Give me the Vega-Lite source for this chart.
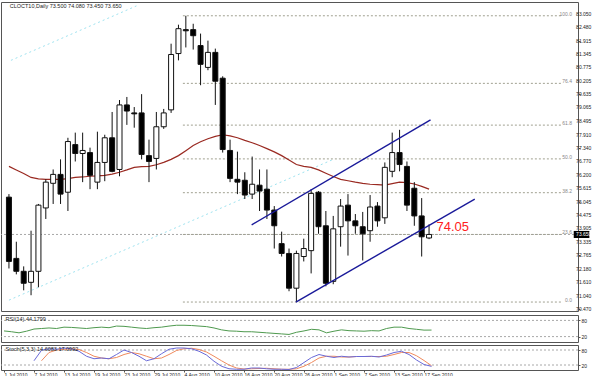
{
"$schema": "https://vega.github.io/schema/vega-lite/v6.json",
"background": "white",
"padding": {"left": 0, "top": 1, "right": 0, "bottom": 0},
"spacing": 1,
"config": {
 "view": {"stroke": "#555", "strokeWidth": 1},
 "font": "Liberation Sans",
 "axis": {"labelFont": "Liberation Sans", "labelFontSize": 5, "labelColor": "#222", "tickColor": "#555", "domainColor": "#555", "grid": false, "title": null, "tickSize": 2, "labelPadding": 1, "labelOverlap": false}
},
"datasets": {
 "candles": [
  {"i":0,"o":75.24,"h":75.37,"l":72.20,"c":72.50},
  {"i":1,"o":72.63,"h":73.34,"l":71.95,"c":72.08},
  {"i":2,"o":72.08,"h":72.29,"l":71.27,"c":71.57},
  {"i":3,"o":71.61,"h":73.81,"l":71.06,"c":72.08},
  {"i":4,"o":72.08,"h":74.95,"l":71.40,"c":74.90},
  {"i":5,"o":74.78,"h":76.00,"l":74.31,"c":75.88},
  {"i":6,"o":75.83,"h":76.42,"l":74.95,"c":76.21},
  {"i":7,"o":76.21,"h":76.85,"l":74.95,"c":75.37},
  {"i":8,"o":75.45,"h":77.77,"l":74.65,"c":77.61},
  {"i":9,"o":77.48,"h":77.99,"l":76.76,"c":77.10},
  {"i":10,"o":77.10,"h":77.99,"l":75.88,"c":77.23},
  {"i":11,"o":77.14,"h":77.35,"l":75.58,"c":76.17},
  {"i":12,"o":75.88,"h":78.03,"l":75.58,"c":76.72},
  {"i":13,"o":76.72,"h":77.90,"l":75.92,"c":77.77},
  {"i":14,"o":77.77,"h":78.87,"l":76.30,"c":76.34},
  {"i":15,"o":76.42,"h":79.38,"l":76.13,"c":79.17},
  {"i":16,"o":79.17,"h":79.51,"l":78.32,"c":78.91},
  {"i":17,"o":78.83,"h":79.08,"l":78.20,"c":78.79},
  {"i":18,"o":78.83,"h":79.63,"l":76.85,"c":77.06},
  {"i":19,"o":77.01,"h":77.69,"l":75.88,"c":76.76},
  {"i":20,"o":76.89,"h":78.87,"l":76.42,"c":78.24},
  {"i":21,"o":78.24,"h":79.00,"l":78.15,"c":78.83},
  {"i":22,"o":78.96,"h":81.78,"l":78.83,"c":81.32},
  {"i":23,"o":81.36,"h":82.59,"l":81.07,"c":82.42},
  {"i":24,"o":82.38,"h":82.97,"l":81.62,"c":82.33},
  {"i":25,"o":82.38,"h":82.63,"l":81.53,"c":82.12},
  {"i":26,"o":81.70,"h":82.21,"l":80.01,"c":80.90},
  {"i":27,"o":80.77,"h":81.91,"l":80.65,"c":81.41},
  {"i":28,"o":81.41,"h":81.57,"l":79.17,"c":80.18},
  {"i":29,"o":80.31,"h":80.39,"l":77.14,"c":77.27},
  {"i":30,"o":77.23,"h":77.69,"l":75.88,"c":76.04},
  {"i":31,"o":76.00,"h":77.18,"l":75.37,"c":75.88},
  {"i":32,"o":75.96,"h":76.30,"l":75.16,"c":75.33},
  {"i":33,"o":75.37,"h":76.97,"l":75.16,"c":75.79},
  {"i":34,"o":75.75,"h":76.42,"l":74.65,"c":75.50},
  {"i":35,"o":75.58,"h":76.42,"l":74.31,"c":74.69},
  {"i":36,"o":74.69,"h":74.86,"l":73.05,"c":74.02},
  {"i":37,"o":73.26,"h":73.77,"l":72.71,"c":72.84},
  {"i":38,"o":72.84,"h":73.05,"l":71.23,"c":71.36},
  {"i":39,"o":71.36,"h":72.96,"l":70.77,"c":72.84},
  {"i":40,"o":72.71,"h":73.47,"l":72.50,"c":73.05},
  {"i":41,"o":72.96,"h":75.58,"l":71.99,"c":75.40},
  {"i":42,"o":75.45,"h":75.50,"l":73.68,"c":73.98},
  {"i":43,"o":74.02,"h":74.65,"l":71.44,"c":71.57},
  {"i":44,"o":71.65,"h":74.44,"l":71.53,"c":73.89},
  {"i":45,"o":73.98,"h":75.16,"l":73.13,"c":74.86},
  {"i":46,"o":74.90,"h":75.37,"l":72.75,"c":74.23},
  {"i":47,"o":74.23,"h":74.52,"l":73.68,"c":74.02},
  {"i":48,"o":73.98,"h":74.61,"l":72.54,"c":73.68},
  {"i":49,"o":73.81,"h":75.33,"l":73.34,"c":74.82},
  {"i":50,"o":74.86,"h":75.03,"l":73.98,"c":74.23},
  {"i":51,"o":74.36,"h":76.72,"l":74.10,"c":76.51},
  {"i":52,"o":76.34,"h":77.99,"l":76.09,"c":77.14},
  {"i":53,"o":77.14,"h":78.11,"l":76.34,"c":76.63},
  {"i":54,"o":76.55,"h":76.76,"l":74.65,"c":74.90},
  {"i":55,"o":75.62,"h":75.88,"l":74.02,"c":74.44},
  {"i":56,"o":74.44,"h":75.20,"l":72.71,"c":73.55},
  {"i":57,"o":73.50,"h":74.08,"l":73.45,"c":73.65}
 ],
 "ma": [
  {"i":0,"v":76.55},{"i":1,"v":76.40},{"i":2,"v":76.25},{"i":3,"v":76.08},{"i":4,"v":76.02},{"i":5,"v":76.00},{"i":6,"v":76.00},{"i":7,"v":76.00},{"i":8,"v":76.03},{"i":9,"v":76.08},
  {"i":10,"v":76.10},{"i":11,"v":76.13},{"i":12,"v":76.15},{"i":13,"v":76.17},{"i":14,"v":76.22},{"i":15,"v":76.30},{"i":16,"v":76.40},{"i":17,"v":76.51},{"i":18,"v":76.54},{"i":19,"v":76.55},
  {"i":20,"v":76.62},{"i":21,"v":76.72},{"i":22,"v":76.85},{"i":23,"v":77.01},{"i":24,"v":77.22},{"i":25,"v":77.44},{"i":26,"v":77.60},{"i":27,"v":77.73},{"i":28,"v":77.83},{"i":29,"v":77.90},
  {"i":30,"v":77.85},{"i":31,"v":77.77},{"i":32,"v":77.66},{"i":33,"v":77.56},{"i":34,"v":77.44},{"i":35,"v":77.31},{"i":36,"v":77.17},{"i":37,"v":77.01},{"i":38,"v":76.82},{"i":39,"v":76.63},
  {"i":40,"v":76.55},{"i":41,"v":76.51},{"i":42,"v":76.40},{"i":43,"v":76.26},{"i":44,"v":76.12},{"i":45,"v":76.00},{"i":46,"v":75.94},{"i":47,"v":75.88},{"i":48,"v":75.83},{"i":49,"v":75.79},
  {"i":50,"v":75.77},{"i":51,"v":75.75},{"i":52,"v":75.82},{"i":53,"v":75.88},{"i":54,"v":75.86},{"i":55,"v":75.80},{"i":56,"v":75.70},{"i":57,"v":75.58}
 ],
 "rsi": [
  {"i":0,"v":41},{"i":1,"v":38},{"i":2,"v":34},{"i":3,"v":40},{"i":4,"v":48},{"i":5,"v":50},{"i":6,"v":52},{"i":7,"v":50},{"i":8,"v":55},{"i":9,"v":54},
  {"i":10,"v":52},{"i":11,"v":50},{"i":12,"v":53},{"i":13,"v":55},{"i":14,"v":53},{"i":15,"v":59},{"i":16,"v":58},{"i":17,"v":55},{"i":18,"v":52},{"i":19,"v":50},
  {"i":20,"v":53},{"i":21,"v":55},{"i":22,"v":59},{"i":23,"v":62},{"i":24,"v":62},{"i":25,"v":61},{"i":26,"v":59},{"i":27,"v":57},{"i":28,"v":52},{"i":29,"v":45},
  {"i":30,"v":41},{"i":31,"v":40},{"i":32,"v":38},{"i":33,"v":38},{"i":34,"v":36},{"i":35,"v":34},{"i":36,"v":32},{"i":37,"v":30},{"i":38,"v":28},{"i":39,"v":36},
  {"i":40,"v":41},{"i":41,"v":47},{"i":42,"v":45},{"i":43,"v":34},{"i":44,"v":40},{"i":45,"v":45},{"i":46,"v":42},{"i":47,"v":41},{"i":48,"v":40},{"i":49,"v":42},
  {"i":50,"v":41},{"i":51,"v":50},{"i":52,"v":55},{"i":53,"v":55},{"i":54,"v":50},{"i":55,"v":47},{"i":56,"v":44},{"i":57,"v":44.18}
 ],
 "stoch": [
  {"i":4,"k":37,"d":null},{"i":5,"k":79,"d":37},{"i":6,"k":85,"d":70},{"i":7,"k":83,"d":80},{"i":8,"k":88,"d":83},{"i":9,"k":85,"d":85},
  {"i":10,"k":75,"d":82},{"i":11,"k":55,"d":70},{"i":12,"k":45,"d":55},{"i":13,"k":48,"d":48},{"i":14,"k":45,"d":45},{"i":15,"k":62,"d":50},{"i":16,"k":80,"d":62},{"i":17,"k":70,"d":70},{"i":18,"k":55,"d":65},{"i":19,"k":37,"d":55},
  {"i":20,"k":45,"d":45},{"i":21,"k":65,"d":48},{"i":22,"k":83,"d":62},{"i":23,"k":88,"d":78},{"i":24,"k":88,"d":85},{"i":25,"k":85,"d":87},{"i":26,"k":75,"d":82},{"i":27,"k":60,"d":72},{"i":28,"k":35,"d":55},{"i":29,"k":15,"d":37},
  {"i":30,"k":5,"d":20},{"i":31,"k":3,"d":8},{"i":32,"k":3,"d":4},{"i":33,"k":8,"d":5},{"i":34,"k":8,"d":6},{"i":35,"k":5,"d":7},{"i":36,"k":3,"d":5},{"i":37,"k":3,"d":3},{"i":38,"k":2,"d":3},{"i":39,"k":10,"d":5},
  {"i":40,"k":30,"d":15},{"i":41,"k":50,"d":30},{"i":42,"k":62,"d":48},{"i":43,"k":55,"d":55},{"i":44,"k":50,"d":55},{"i":45,"k":55,"d":52},{"i":46,"k":52,"d":52},{"i":47,"k":54,"d":54},{"i":48,"k":54,"d":54},{"i":49,"k":55,"d":54},
  {"i":50,"k":52,"d":54},{"i":51,"k":60,"d":55},{"i":52,"k":70,"d":62},{"i":53,"k":75,"d":70},{"i":54,"k":62,"d":70},{"i":55,"k":40,"d":57},{"i":56,"k":22,"d":38},{"i":57,"k":14.61,"d":17.1}
 ],
 "channel": [
  {"seg":"up","i":32.93,"p":74.06},{"seg":"up","i":57.2,"p":78.53},
  {"seg":"low","i":38.93,"p":70.77},{"seg":"low","i":63.2,"p":75.16}
 ],
 "cyan": [
  {"seg":"a","i":0.27,"p":81.07},{"seg":"a","i":17.3,"p":83.39},
  {"seg":"b","i":0,"p":70.85},{"seg":"b","i":44,"p":76.85}
 ],
 "fib": [
  {"lvl":"100.0","p":82.97},{"lvl":"76.4","p":80.09},{"lvl":"61.8","p":78.31},{"lvl":"50.0","p":76.87},{"lvl":"38.2","p":75.43},{"lvl":"23.6","p":73.65},{"lvl":"0.0","p":70.77}
 ],
 "ylab": [
  {"p":83.05,"t":"83.050"},{"p":82.48,"t":"82.480"},{"p":81.915,"t":"81.915"},{"p":81.345,"t":"81.345"},{"p":80.775,"t":"80.775"},{"p":80.205,"t":"80.205"},
  {"p":79.635,"t":"79.635"},{"p":79.065,"t":"79.065"},{"p":78.495,"t":"78.495"},{"p":77.91,"t":"77.910"},{"p":77.34,"t":"77.340"},{"p":76.77,"t":"76.770"},
  {"p":76.2,"t":"76.200"},{"p":75.615,"t":"75.615"},{"p":75.045,"t":"75.045"},{"p":74.475,"t":"74.475"},{"p":73.905,"t":"73.905"},{"p":73.335,"t":"73.335"},
  {"p":72.765,"t":"72.765"},{"p":72.18,"t":"72.180"},{"p":71.61,"t":"71.610"},{"p":71.04,"t":"71.040"},{"p":70.47,"t":"70.470"}
 ]
},
"vconcat": [
 {
  "width": 577, "height": 309,
  "layer": [
   {"data": {"name": "cyan"}, "mark": {"type": "line", "color": "#9fe3f0", "strokeDash": [2, 3], "strokeWidth": 1},
    "encoding": {
     "x": {"field": "i", "type": "quantitative", "scale": {"domain": [-0.4, 76.53], "nice": false, "zero": false}, "axis": null},
     "y": {"field": "p", "type": "quantitative", "scale": {"domain": [70.388, 83.557], "nice": false, "zero": false},
       "axis": {"orient": "right", "values": [83.05,82.48,81.915,81.345,80.775,80.205,79.635,79.065,78.495,77.91,77.34,76.77,76.2,75.615,75.045,74.475,73.905,73.335,72.765,72.18,71.61,71.04,70.47], "labels": false, "domain": false}},
     "detail": {"field": "seg"}}},
   {"data": {"name": "ylab"}, "mark": {"type": "text", "align": "left", "baseline": "middle", "fontSize": 5, "color": "#222", "clip": false},
    "encoding": {"x": {"datum": 76.95, "type": "quantitative"}, "y": {"field": "p", "type": "quantitative"}, "text": {"field": "t"}}},
   {"data": {"values": [{"p": 73.65}]}, "mark": {"type": "rule", "color": "#a8a8a8", "strokeDash": [2, 2], "strokeWidth": 1},
    "encoding": {"y": {"field": "p", "type": "quantitative"}}},
   {"data": {"name": "fib"}, "mark": {"type": "rule", "color": "#a0a090", "strokeDash": [2, 2], "strokeWidth": 1},
    "encoding": {"x": {"datum": 23.6, "type": "quantitative"}, "x2": {"datum": 74.9}, "y": {"field": "p", "type": "quantitative"}}},
   {"data": {"name": "fib"}, "mark": {"type": "text", "align": "right", "baseline": "bottom", "fontSize": 5, "color": "#888", "dy": 1},
    "encoding": {"x": {"datum": 76.4, "type": "quantitative"}, "y": {"field": "p", "type": "quantitative"}, "text": {"field": "lvl"}}},
   {"data": {"name": "ma"}, "mark": {"type": "line", "color": "#9a2a22", "strokeWidth": 1.2},
    "encoding": {"x": {"field": "i", "type": "quantitative"}, "y": {"field": "v", "type": "quantitative"}}},
   {"data": {"name": "candles"}, "mark": {"type": "rule", "color": "#111", "strokeWidth": 1},
    "encoding": {"x": {"field": "i", "type": "quantitative"}, "y": {"field": "l", "type": "quantitative"}, "y2": {"field": "h"}}},
   {"data": {"name": "candles"}, "mark": {"type": "bar", "size": 5, "stroke": "#111", "strokeWidth": 1},
    "encoding": {"x": {"field": "i", "type": "quantitative"}, "y": {"field": "o", "type": "quantitative"}, "y2": {"field": "c"},
     "fill": {"condition": {"test": "datum.o > datum.c", "value": "#000"}, "value": "#fff"}}},
   {"data": {"name": "channel"}, "mark": {"type": "line", "color": "#1a1a9a", "strokeWidth": 1.4},
    "encoding": {"x": {"field": "i", "type": "quantitative"}, "y": {"field": "p", "type": "quantitative"}, "detail": {"field": "seg"}}},
   {"data": {"values": [{"i": 58, "p": 73.98, "t": "74.05"}]}, "mark": {"type": "text", "align": "left", "baseline": "middle", "fontSize": 13, "color": "#ff2020"},
    "encoding": {"x": {"field": "i", "type": "quantitative"}, "y": {"field": "p", "type": "quantitative"}, "text": {"field": "t"}}},
   {"data": {"values": [{"i": 0.1, "p": 83.49, "t": "CLOCT10,Daily  73.500 74.080 73.450 73.650"}]}, "mark": {"type": "text", "align": "left", "baseline": "top", "fontSize": 5.5, "color": "#222"},
    "encoding": {"x": {"field": "i", "type": "quantitative"}, "y": {"field": "p", "type": "quantitative"}, "text": {"field": "t"}}},
   {"data": {"values": [{"a": 76.63, "b": 78.75, "p1": 73.5, "p2": 73.8}]}, "mark": {"type": "rect", "color": "#000", "clip": false},
    "encoding": {"x": {"field": "a", "type": "quantitative"}, "x2": {"field": "b"}, "y": {"field": "p1", "type": "quantitative"}, "y2": {"field": "p2"}}},
   {"data": {"values": [{"i": 76.95, "p": 73.65, "t": "73.650"}]}, "mark": {"type": "text", "align": "left", "baseline": "middle", "fontSize": 5, "color": "#fff"},
    "encoding": {"x": {"field": "i", "type": "quantitative"}, "y": {"field": "p", "type": "quantitative"}, "text": {"field": "t"}}}
  ]
 },
 {
  "width": 577, "height": 27,
  "layer": [
   {"data": {"values": [{"v": 80}, {"v": 20}]}, "mark": {"type": "rule", "color": "#a8a8a8", "strokeDash": [2, 2]},
    "encoding": {"y": {"field": "v", "type": "quantitative", "scale": {"domain": [0, 100], "nice": false}, "axis": {"orient": "right", "values": [80, 20], "domain": false}}}},
   {"data": {"name": "rsi"}, "mark": {"type": "line", "color": "#4f9a4f", "strokeWidth": 1},
    "encoding": {"x": {"field": "i", "type": "quantitative", "scale": {"domain": [-0.4, 76.53], "nice": false, "zero": false}, "axis": null}, "y": {"field": "v", "type": "quantitative"}}},
   {"data": {"values": [{"i": 0.2, "v": 93, "t": "RSI(14) 44.1799"}]}, "mark": {"type": "text", "align": "left", "baseline": "top", "fontSize": 5.5, "color": "#222"},
    "encoding": {"x": {"field": "i", "type": "quantitative"}, "y": {"field": "v", "type": "quantitative"}, "text": {"field": "t"}}}
  ]
 },
 {
  "width": 577, "height": 25,
  "layer": [
   {"data": {"values": [{"v": 80}, {"v": 20}]}, "mark": {"type": "rule", "color": "#a8a8a8", "strokeDash": [2, 2]},
    "encoding": {"y": {"field": "v", "type": "quantitative", "scale": {"domain": [0, 100], "nice": false}, "axis": {"orient": "right", "values": [80, 20], "domain": false}}}},
   {"data": {"name": "stoch"}, "mark": {"type": "line", "color": "#f08a5d", "strokeWidth": 1},
    "encoding": {"x": {"field": "i", "type": "quantitative", "scale": {"domain": [-0.4, 76.53], "nice": false, "zero": false},
      "axis": {"orient": "bottom", "values": [0,4,8,12,16,20,24,28,32,36,40,44,48,52,56], "labelExpr": "['1 Jul 2010','7 Jul 2010','13 Jul 2010','19 Jul 2010','23 Jul 2010','29 Jul 2010','4 Aug 2010','10 Aug 2010','16 Aug 2010','20 Aug 2010','26 Aug 2010','1 Sep 2010','7 Sep 2010','13 Sep 2010','17 Sep 2010'][round(datum.value/4)]", "labelAlign": "left", "labelDx": 1, "labelPadding": 0, "tickSize": 2, "domain": false, "labelOverlap": false, "labelFlush": false}},
     "y": {"field": "d", "type": "quantitative"}}},
   {"data": {"name": "stoch"}, "mark": {"type": "line", "color": "#6a6ad8", "strokeWidth": 1},
    "encoding": {"x": {"field": "i", "type": "quantitative"}, "y": {"field": "k", "type": "quantitative"}}},
   {"data": {"values": [{"i": 0.2, "v": 92, "t": "Stoch(5,3,3) 14.6083 17.0992"}]}, "mark": {"type": "text", "align": "left", "baseline": "top", "fontSize": 5.5, "color": "#222"},
    "encoding": {"x": {"field": "i", "type": "quantitative"}, "y": {"field": "v", "type": "quantitative"}, "text": {"field": "t"}}}
  ]
 }
]
}
